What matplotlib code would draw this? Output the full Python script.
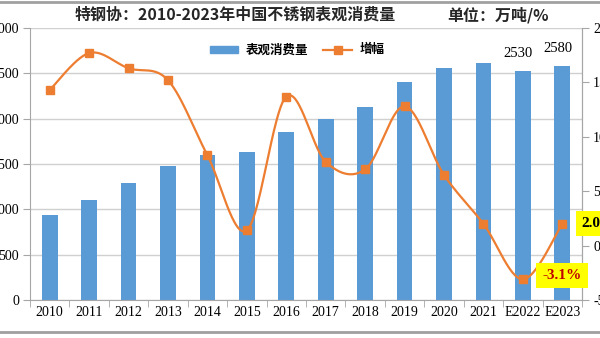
import numpy as np
import matplotlib
matplotlib.use("Agg")
import matplotlib.pyplot as plt
from matplotlib.lines import Line2D
from matplotlib.patches import Patch

plt.rcParams['font.family'] = ['Noto Sans CJK SC', 'DejaVu Sans']

years = ['2010', '2011', '2012', '2013', '2014', '2015', '2016', '2017',
         '2018', '2019', '2020', '2021', 'E2022', 'E2023']
consumption = [940, 1106, 1286, 1481, 1604, 1627, 1850, 1992,
               2131, 2404, 2560, 2611, 2530, 2580]
growth = [14.3, 17.7, 16.3, 15.2, 8.3, 1.4, 13.7, 7.7,
          7.0, 12.8, 6.5, 2.0, -3.1, 2.0]

BAR = '#5b9bd5'
LINE = '#ed7d31'
SPINE = '#a6a6a6'
SERIF = 'Liberation Serif'

fig = plt.figure(figsize=(6, 3.38), dpi=100)
ax = fig.add_axes([30/600, 1-300/338, 552/600, 272/338])
x = np.arange(len(years))
ax.bar(x, consumption, width=0.4, color=BAR, zorder=2)
ax.set_xlim(-0.5, len(years)-0.5)
ax.set_ylim(0, 3000)
ax.set_yticks(np.arange(0, 3001, 500))
ax.yaxis.grid(True, color='#d0d0d0', lw=1, zorder=0)
ax.set_axisbelow(True)
ax.set_xticks(x)
ax.set_xticklabels(years, fontfamily=SERIF, fontsize=10)
ax.set_xticks(np.arange(-0.5, len(years), 1), minor=True)
ax.tick_params(axis='x', which='major', length=0, pad=4)
ax.tick_params(axis='x', which='minor', length=5, color=SPINE)
ax.tick_params(axis='y', length=5, color=SPINE, labelsize=10, pad=3)
for lab in ax.get_yticklabels():
    lab.set_fontfamily(SERIF)
for s in ['top']:
    ax.spines[s].set_visible(False)
for s in ['left', 'bottom', 'right']:
    ax.spines[s].set_color(SPINE)

# data labels for the last two bars
for i in [12, 13]:
    ax.text(x[i]-0.12, consumption[i]+120, str(consumption[i]), ha='center', va='bottom',
            fontfamily=SERIF, fontsize=10.5)

ax2 = ax.twinx()
ax2.set_ylim(-5, 20)
ax2.set_yticks(np.arange(-5, 20.1, 5))
ax2.set_yticklabels([f'{v:.1f}%' for v in np.arange(-5, 20.1, 5)], fontfamily=SERIF, fontsize=10)
ax2.tick_params(axis='y', length=5, color=SPINE, pad=3)
for s in ['top', 'left', 'bottom']:
    ax2.spines[s].set_visible(False)
ax2.spines['right'].set_color(SPINE)

# smooth (Catmull-Rom) line like Excel's smoothed line
g = np.array(growth, dtype=float)
xs, ys = [], []
P = np.column_stack([x.astype(float), g])
Pe = np.vstack([P[0], P, P[-1]])
for k in range(len(P)-1):
    p0, p1, p2, p3 = Pe[k], Pe[k+1], Pe[k+2], Pe[k+3]
    c1 = p1 + (p2 - p0) / 6
    c2 = p2 - (p3 - p1) / 6
    t = np.linspace(0, 1, 30)[:, None]
    B = (1-t)**3*p1 + 3*(1-t)**2*t*c1 + 3*(1-t)*t**2*c2 + t**3*p2
    xs.extend(B[:, 0]); ys.extend(B[:, 1])
ax2.plot(xs, ys, color=LINE, lw=1.6, zorder=3)
ax2.plot(x, g, linestyle='none', marker='s', markersize=5.5, color=LINE, zorder=4)

ax2.annotate('-3.1%', xy=(x[12], g[12]), xytext=(14, 3), textcoords='offset points',
             ha='left', va='center', fontsize=11, fontweight='bold', color='#c00000',
             fontfamily=SERIF,
             bbox=dict(boxstyle='square,pad=0.4', fc='#ffff00', ec='none'))
ax2.annotate('2.0%', xy=(x[13], g[13]), xytext=(14, 0), textcoords='offset points',
             ha='left', va='center', fontsize=11, fontweight='bold', color='black',
             fontfamily=SERIF, annotation_clip=False,
             bbox=dict(boxstyle='square,pad=0.4', fc='#ffff00', ec='none'))

# title
fig.text(75/600, 1-15/338, '特钢协：2010-2023年中国不锈钢表观消费量', ha='left', va='center',
         fontsize=11.5, fontweight='bold', color='#262626')
fig.text(447/600, 1-15/338, '单位：万吨/%', ha='left', va='center',
         fontsize=11.5, fontweight='bold', color='#262626')

handles = [Patch(color=BAR),
           Line2D([0], [0], color=LINE, lw=1.6, marker='s', markersize=5.5)]
fig.legend(handles, ['表观消费量', '增幅'], loc='center', ncol=2,
           bbox_to_anchor=(297/600, 1-50/338), frameon=False,
           prop={'size': 9, 'weight': 'bold'}, handlelength=2.3, handleheight=0.5,
           columnspacing=1.2, handletextpad=0.6)

# image frame lines
fig.add_artist(Line2D([0, 1], [1-2/338, 1-2/338], color='#a0a0a0', lw=2, transform=fig.transFigure))
fig.add_artist(Line2D([0, 1], [1-332/338, 1-332/338], color='#a0a0a0', lw=2, transform=fig.transFigure))

fig.savefig('out.png', dpi=100)
